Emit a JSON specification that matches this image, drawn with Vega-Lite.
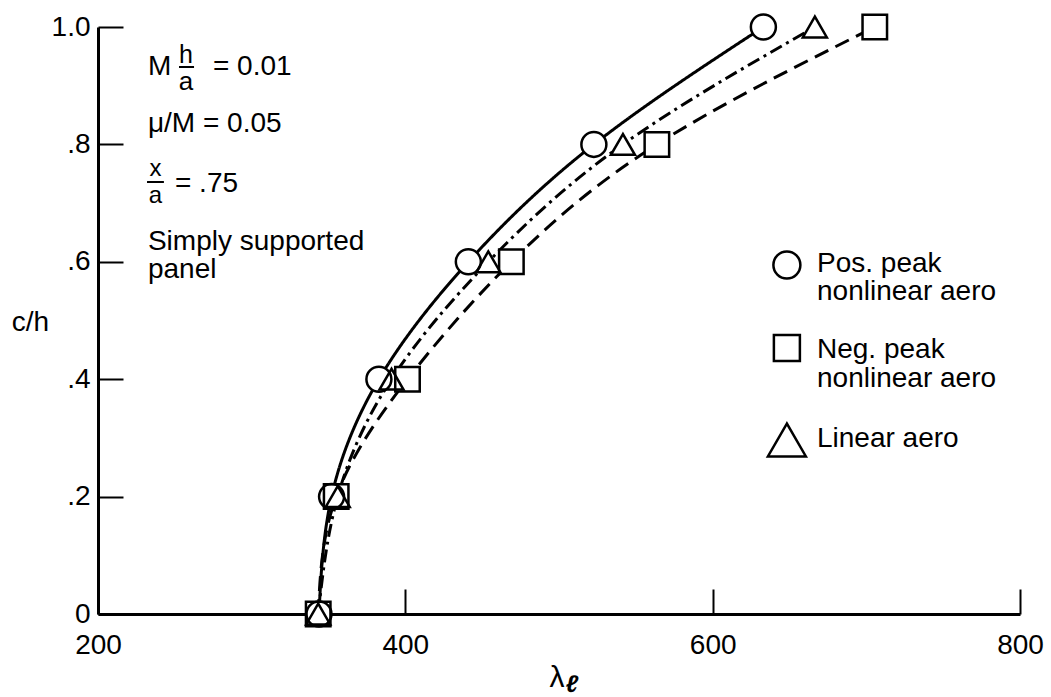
{
  "$schema": "https://vega.github.io/schema/vega-lite/v6.json",
  "width": 922,
  "height": 587,
  "autosize": {"type": "none"},
  "padding": {"left": 98, "top": 27, "right": 31, "bottom": 83},
  "background": "white",
  "config": {
    "view": {"stroke": null},
    "font": "Liberation Sans",
    "axis": {
      "domainColor": "black",
      "domainWidth": 3,
      "tickColor": "black",
      "tickWidth": 2,
      "tickSize": -25,
      "labelColor": "black",
      "labelFont": "Liberation Sans",
      "labelFontSize": 28,
      "labelFlush": false,
      "grid": false,
      "titleColor": "black",
      "titleFont": "Liberation Sans",
      "titleFontSize": 28,
      "titleFontWeight": "normal"
    },
    "text": {"font": "Liberation Sans", "fontSize": 28, "color": "black", "align": "left", "baseline": "alphabetic"}
  },
  "data": {
    "values": [
      {"series": "Pos", "lambda": 343.8, "c_h": 0.0},
      {"series": "Pos", "lambda": 352.0, "c_h": 0.2},
      {"series": "Pos", "lambda": 382.8, "c_h": 0.4},
      {"series": "Pos", "lambda": 441.0, "c_h": 0.6},
      {"series": "Pos", "lambda": 522.7, "c_h": 0.8},
      {"series": "Pos", "lambda": 633.0, "c_h": 1.0},
      {"series": "Lin", "lambda": 343.3, "c_h": 0.0},
      {"series": "Lin", "lambda": 356.0, "c_h": 0.2},
      {"series": "Lin", "lambda": 391.0, "c_h": 0.4},
      {"series": "Lin", "lambda": 454.0, "c_h": 0.6},
      {"series": "Lin", "lambda": 541.6, "c_h": 0.8},
      {"series": "Lin", "lambda": 666.5, "c_h": 1.0},
      {"series": "Neg", "lambda": 343.3, "c_h": 0.0},
      {"series": "Neg", "lambda": 355.0, "c_h": 0.2},
      {"series": "Neg", "lambda": 401.4, "c_h": 0.4},
      {"series": "Neg", "lambda": 469.0, "c_h": 0.6},
      {"series": "Neg", "lambda": 563.7, "c_h": 0.8},
      {"series": "Neg", "lambda": 705.5, "c_h": 1.0}
    ]
  },
  "layer": [
    {
      "mark": {"type": "line", "interpolate": "natural", "strokeWidth": 3, "color": "black", "clip": false},
      "encoding": {
        "x": {
          "field": "lambda", "type": "quantitative",
          "scale": {"domain": [200, 800], "nice": false, "zero": false},
          "axis": {"values": [200, 400, 600, 800], "title": null, "labelPadding": 42, "labelBaseline": "top"}
        },
        "y": {
          "field": "c_h", "type": "quantitative",
          "scale": {"domain": [0, 1], "nice": false},
          "axis": {
            "values": [0, 0.2, 0.4, 0.6, 0.8, 1],
            "title": "c/h",
            "titleAngle": 0,
            "titleX": -68,
            "titleY": 303,
            "titleAlign": "center",
            "titleBaseline": "alphabetic",
            "labelPadding": 33,
            "labelBaseline": "middle",
            "labelExpr": "datum.value == 0 ? '0' : datum.value == 1 ? '1.0' : '.' + format(datum.value * 10, 'd')"
          }
        },
        "detail": {"field": "series", "type": "nominal"},
        "strokeDash": {
          "field": "series", "type": "nominal",
          "scale": {"domain": ["Pos", "Neg", "Lin"], "range": [[1, 0], [15, 8], [13, 5, 3, 5]]},
          "legend": null
        },
        "order": {"field": "c_h", "type": "quantitative"}
      }
    },
    {
      "mark": {"type": "point", "filled": true, "fill": "white", "strokeWidth": 0, "opacity": 1, "fillOpacity": 1, "clip": false},
      "encoding": {
        "x": {"field": "lambda", "type": "quantitative"},
        "y": {"field": "c_h", "type": "quantitative"},
        "shape": {
          "field": "series", "type": "nominal",
          "scale": {"domain": ["Pos", "Neg", "Lin"], "range": ["circle", "square", "triangle-up"]},
          "legend": null
        },
        "size": {
          "field": "series", "type": "ordinal",
          "scale": {"domain": ["Pos", "Neg", "Lin"], "range": [625, 576, 1089]},
          "legend": null
        }
      }
    },
    {
      "mark": {"type": "point", "filled": false, "stroke": "black", "strokeWidth": 2.5, "opacity": 1, "clip": false},
      "encoding": {
        "x": {"field": "lambda", "type": "quantitative"},
        "y": {"field": "c_h", "type": "quantitative"},
        "shape": {"field": "series", "type": "nominal", "legend": null},
        "size": {"field": "series", "type": "ordinal", "legend": null}
      }
    },
    {
      "data": {"values": [{}]},
      "layer": [
        {"mark": {"type": "text", "text": "M"}, "encoding": {"x": {"datum": 232.5}, "y": {"datum": 0.9182}}},
        {"mark": {"type": "text", "text": "h", "align": "center", "fontSize": 25}, "encoding": {"x": {"datum": 257.3}, "y": {"datum": 0.9387}}},
        {"mark": {"type": "rule", "strokeWidth": 2, "color": "black"}, "encoding": {"x": {"datum": 252.7}, "x2": {"datum": 262.5}, "y": {"datum": 0.9319}}},
        {"mark": {"type": "text", "text": "a", "align": "center", "fontSize": 26}, "encoding": {"x": {"datum": 257.3}, "y": {"datum": 0.8927}}},
        {"mark": {"type": "text", "text": "= 0.01"}, "encoding": {"x": {"datum": 274.8}, "y": {"datum": 0.9182}}},
        {"mark": {"type": "text", "text": "μ/M = 0.05"}, "encoding": {"x": {"datum": 232.5}, "y": {"datum": 0.8211}}},
        {"mark": {"type": "text", "text": "x", "align": "center", "fontSize": 24}, "encoding": {"x": {"datum": 237.4}, "y": {"datum": 0.7462}}},
        {"mark": {"type": "rule", "strokeWidth": 2, "color": "black"}, "encoding": {"x": {"datum": 231.9}, "x2": {"datum": 242.9}, "y": {"datum": 0.7359}}},
        {"mark": {"type": "text", "text": "a", "align": "center", "fontSize": 24}, "encoding": {"x": {"datum": 237.4}, "y": {"datum": 0.7002}}},
        {"mark": {"type": "text", "text": "= .75"}, "encoding": {"x": {"datum": 250.1}, "y": {"datum": 0.7189}}},
        {"mark": {"type": "text", "text": "Simply supported"}, "encoding": {"x": {"datum": 232.5}, "y": {"datum": 0.6201}}},
        {"mark": {"type": "text", "text": "panel"}, "encoding": {"x": {"datum": 232.5}, "y": {"datum": 0.5724}}},
        {"mark": {"type": "point", "shape": "circle", "size": 729, "filled": false, "stroke": "black", "strokeWidth": 2.5, "opacity": 1}, "encoding": {"x": {"datum": 648.3}, "y": {"datum": 0.5945}}},
        {"mark": {"type": "point", "shape": "square", "size": 676, "filled": false, "stroke": "black", "strokeWidth": 2.5, "opacity": 1}, "encoding": {"x": {"datum": 648.3}, "y": {"datum": 0.4532}}},
        {"mark": {"type": "point", "shape": "triangle-up", "size": 1444, "filled": false, "stroke": "black", "strokeWidth": 2.5, "opacity": 1}, "encoding": {"x": {"datum": 648.3}, "y": {"datum": 0.2964}}},
        {"mark": {"type": "text", "text": "Pos. peak"}, "encoding": {"x": {"datum": 667.9}, "y": {"datum": 0.5826}}},
        {"mark": {"type": "text", "text": "nonlinear aero"}, "encoding": {"x": {"datum": 667.9}, "y": {"datum": 0.5349}}},
        {"mark": {"type": "text", "text": "Neg. peak"}, "encoding": {"x": {"datum": 667.9}, "y": {"datum": 0.4361}}},
        {"mark": {"type": "text", "text": "nonlinear aero"}, "encoding": {"x": {"datum": 667.9}, "y": {"datum": 0.3867}}},
        {"mark": {"type": "text", "text": "Linear aero"}, "encoding": {"x": {"datum": 667.9}, "y": {"datum": 0.2845}}},
        {"mark": {"type": "text", "text": "λ", "align": "center", "fontSize": 30}, "encoding": {"x": {"datum": 498.7}, "y": {"datum": -0.1244}}},
        {"mark": {"type": "text", "text": "ℓ", "align": "center", "fontSize": 24, "fontStyle": "italic", "fontWeight": "bold"}, "encoding": {"x": {"datum": 508.4}, "y": {"datum": -0.1329}}}
      ]
    }
  ]
}
